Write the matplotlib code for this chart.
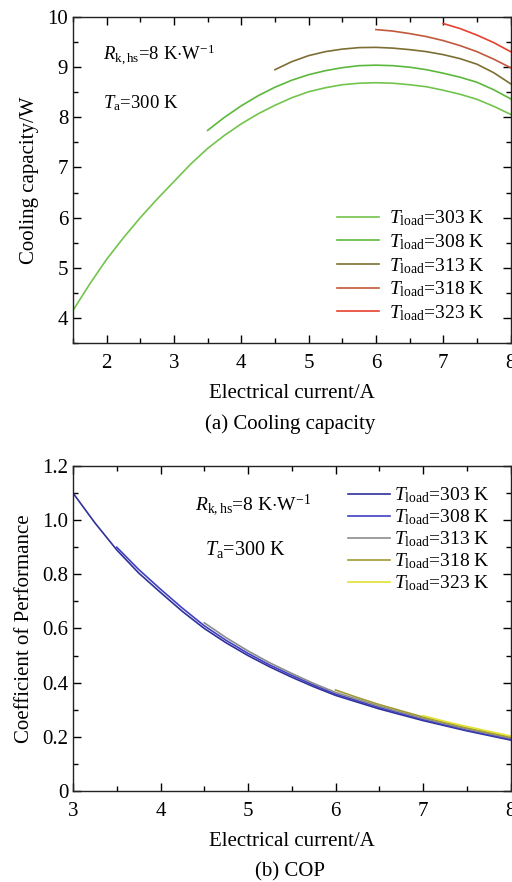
import matplotlib
matplotlib.use("Agg")
import matplotlib.pyplot as plt
from matplotlib.ticker import MultipleLocator

plt.rcParams['font.family'] = 'Liberation Serif'
plt.rcParams['mathtext.fontset'] = 'custom'
plt.rcParams['mathtext.rm'] = 'Liberation Serif'
plt.rcParams['mathtext.it'] = 'Liberation Serif:italic'
plt.rcParams['font.size'] = 15

labels = ['303', '308', '313', '318', '323']

# (a) cooling capacity, W
cc_i_303 = [1.5, 1.75, 2, 2.25, 2.5, 2.75, 3, 3.25, 3.5, 3.75, 4, 4.25, 4.5, 4.75,
            5, 5.25, 5.5, 5.75, 6, 6.25, 6.5, 6.75, 7, 7.25, 7.5, 7.75, 8]
cc_303 = [4.15, 4.68, 5.17, 5.6, 6.0, 6.37, 6.72, 7.07, 7.38, 7.64, 7.87, 8.07, 8.24, 8.39,
          8.51, 8.59, 8.65, 8.68, 8.69, 8.68, 8.65, 8.61, 8.54, 8.46, 8.36, 8.22, 8.06]
cc_i_308 = [3.5, 3.75, 4, 4.25, 4.5, 4.75, 5, 5.25, 5.5, 5.75, 6, 6.25, 6.5, 6.75,
            7, 7.25, 7.5, 7.75, 8]
cc_308 = [7.74, 8.0, 8.23, 8.43, 8.6, 8.74, 8.85, 8.93, 8.99, 9.03, 9.04, 9.03, 9.0, 8.95,
          8.88, 8.8, 8.7, 8.55, 8.37]
cc_i_313 = [4.5, 4.75, 5, 5.25, 5.5, 5.75, 6, 6.25, 6.5, 6.75, 7, 7.25, 7.5, 7.75, 8]
cc_313 = [8.95, 9.11, 9.23, 9.31, 9.36, 9.39, 9.395, 9.38, 9.35, 9.31, 9.25, 9.17, 9.06, 8.89, 8.67]
cc_i_318 = [6, 6.25, 6.5, 6.75, 7, 7.25, 7.5, 7.75, 8]
cc_318 = [9.75, 9.72, 9.67, 9.61, 9.53, 9.43, 9.31, 9.16, 8.99]
cc_i_323 = [7, 7.25, 7.5, 7.75, 8]
cc_323 = [9.87, 9.77, 9.64, 9.49, 9.31]

# (b) COP
cop_i_303 = [3, 3.25, 3.5, 3.75, 4, 4.25, 4.5, 4.75, 5, 5.25, 5.5, 5.75, 6, 6.5, 7, 7.5, 8]
cop_303 = [1.10, 0.99, 0.89, 0.805, 0.733, 0.663, 0.60, 0.547, 0.50, 0.458, 0.42, 0.385,
           0.353, 0.303, 0.26, 0.222, 0.188]
cop_i_308 = [3.5, 3.75, 4, 4.25, 4.5, 4.75, 5, 5.25, 5.5, 5.75, 6, 6.5, 7, 7.5, 8]
cop_308 = [0.90, 0.818, 0.745, 0.675, 0.61, 0.556, 0.508, 0.465, 0.427, 0.391, 0.358,
           0.308, 0.264, 0.225, 0.191]
cop_i_313 = [4.5, 4.75, 5, 5.25, 5.5, 5.75, 6, 6.5, 7, 7.5, 8]
cop_313 = [0.621, 0.566, 0.517, 0.473, 0.434, 0.397, 0.364, 0.313, 0.268, 0.229, 0.195]
cop_i_318 = [6, 6.25, 6.5, 7, 7.5, 8]
cop_318 = [0.373, 0.345, 0.319, 0.273, 0.233, 0.199]
cop_i_323 = [7, 7.25, 7.5, 8]
cop_323 = [0.278, 0.257, 0.238, 0.203]

cc_colors = ['#72c44c', '#5cb83c', '#7d6e34', '#c2583c', '#e8402e']
cop_colors = ['#30309a', '#4040c4', '#8c8c8c', '#a09a34', '#e2e232']

fig = plt.figure(figsize=(5.12, 8.82), dpi=100)
ax1 = fig.add_axes([0.1426, 0.6111, 0.8545, 0.3696])
ax2 = fig.add_axes([0.1426, 0.1032, 0.8545, 0.3685])

cc_x = [cc_i_303, cc_i_308, cc_i_313, cc_i_318, cc_i_323]
cc_y = [cc_303, cc_308, cc_313, cc_318, cc_323]
for x, y, c, lab in zip(cc_x, cc_y, cc_colors, labels):
    ax1.plot(x, y, color=c, lw=1.2, label=r'$T_{\rm load}$=' + lab + ' K')

cop_x = [cop_i_303, cop_i_308, cop_i_313, cop_i_318, cop_i_323]
cop_y = [cop_303, cop_308, cop_313, cop_318, cop_323]
for x, y, c, lab in zip(cop_x, cop_y, cop_colors, labels):
    ax2.plot(x, y, color=c, lw=1.2, label=r'$T_{\rm load}$=' + lab + ' K')

ax1.set_xlim(1.5, 8)
ax1.set_ylim(3.5, 10)
ax1.xaxis.set_major_locator(MultipleLocator(1))
ax1.xaxis.set_minor_locator(MultipleLocator(0.5))
ax1.yaxis.set_major_locator(MultipleLocator(1))
ax1.yaxis.set_minor_locator(MultipleLocator(0.5))
ax1.set_xlabel('Electrical current/A', labelpad=8)
ax1.set_ylabel('Cooling capacity/W', labelpad=6)

ax2.set_xlim(3, 8)
ax2.set_ylim(0, 1.2)
ax2.xaxis.set_major_locator(MultipleLocator(1))
ax2.xaxis.set_minor_locator(MultipleLocator(0.5))
ax2.yaxis.set_minor_locator(MultipleLocator(0.1))
ax2.set_yticks([0, 0.2, 0.4, 0.6, 0.8, 1.0, 1.2])
ax2.set_yticklabels(['0', '0.2', '0.4', '0.6', '0.8', '1.0', '1.2'])
ax2.set_xlabel('Electrical current/A', labelpad=8)
ax2.set_ylabel('Coefficient of Performance', labelpad=6)

for ax in (ax1, ax2):
    ax.tick_params(which='both', direction='in', top=True, right=True, width=1.0)
    ax.tick_params(which='major', length=6)
    ax.tick_params(which='minor', length=3.5)
    ax.tick_params(axis='x', pad=8)
    for s in ax.spines.values():
        s.set_linewidth(1.0)
        s.set_color('#222222')

ax1.text(0.069, 0.885, r'$R_{\rm k,hs}$=8 K$\cdot$W$^{-1}$', transform=ax1.transAxes,
         va='center', fontsize=13.5)
ax1.text(0.069, 0.735, r'$T_{\rm a}$=300 K', transform=ax1.transAxes, va='center', fontsize=13.5)
ax2.text(0.279, 0.88, r'$R_{\rm k,hs}$=8 K$\cdot$W$^{-1}$', transform=ax2.transAxes,
         va='center', fontsize=14)
ax2.text(0.302, 0.742, r'$T_{\rm a}$=300 K', transform=ax2.transAxes, va='center', fontsize=14.5)

ax1.legend(loc='upper left', bbox_to_anchor=(0.603, 0.412), frameon=False,
           borderpad=0, borderaxespad=0, handlelength=2.15, handletextpad=0.55,
           labelspacing=0.2, fontsize=14)
ax2.legend(loc='upper left', bbox_to_anchor=(0.629, 0.94), frameon=False,
           borderpad=0, borderaxespad=0, handlelength=2.15, handletextpad=0.2,
           labelspacing=0.12, fontsize=14)

fig.text(0.566, 1 - 424 / 882, '(a) Cooling capacity', ha='center', va='center')
fig.text(0.566, 1 - 872 / 882, '(b) COP', ha='center', va='center')

fig.savefig('out.png', dpi=100)
